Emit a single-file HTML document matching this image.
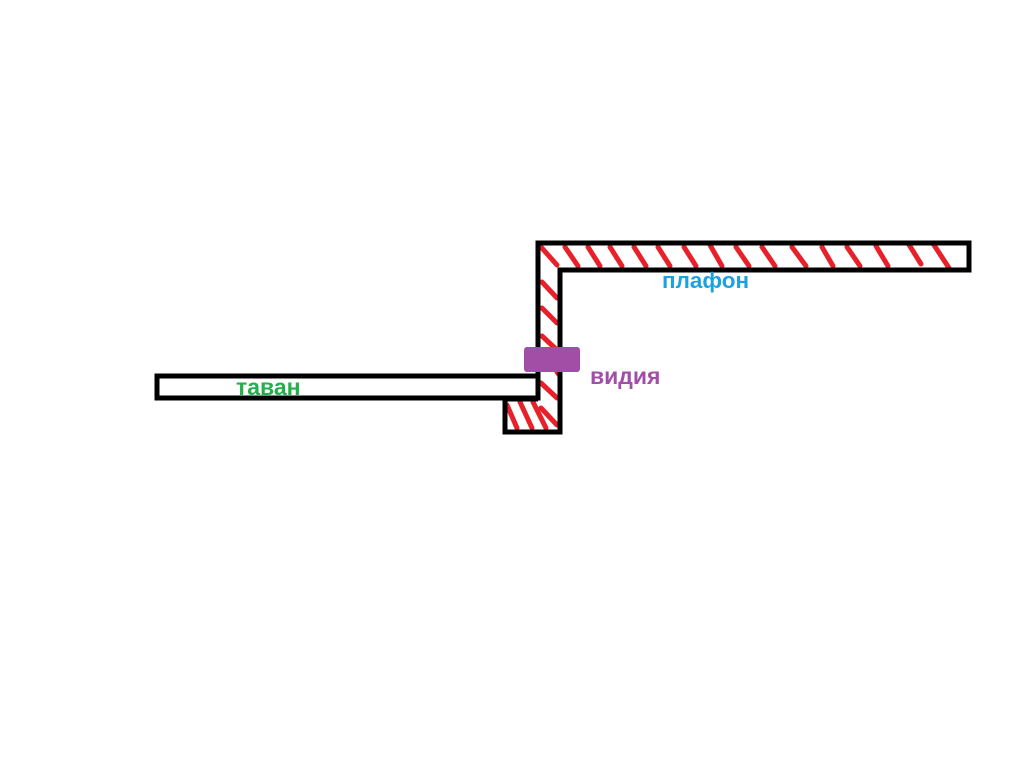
<!DOCTYPE html>
<html><head><meta charset="utf-8"><style>body{margin:0;background:#fff}svg{display:block}</style></head><body>
<svg width="1025" height="770" xmlns="http://www.w3.org/2000/svg">
<rect width="1025" height="770" fill="#fff"/>
<g stroke="#e8202a" stroke-width="5" stroke-linecap="round">
<line x1="541" y1="247" x2="557" y2="265"/>
<line x1="565" y1="247" x2="578" y2="266"/>
<line x1="588" y1="247" x2="600" y2="266"/>
<line x1="610" y1="247" x2="622" y2="266"/>
<line x1="634" y1="247" x2="646" y2="266"/>
<line x1="658" y1="247" x2="670" y2="266"/>
<line x1="684" y1="247" x2="696" y2="266"/>
<line x1="710" y1="245" x2="722" y2="266"/>
<line x1="736" y1="247" x2="749" y2="266"/>
<line x1="762" y1="247" x2="775" y2="266"/>
<line x1="792" y1="247" x2="806" y2="266"/>
<line x1="822" y1="247" x2="833" y2="266"/>
<line x1="847" y1="247" x2="860" y2="266"/>
<line x1="876" y1="246" x2="888" y2="266"/>
<line x1="908" y1="243" x2="921" y2="264"/>
<line x1="934" y1="245" x2="949" y2="268"/>
<line x1="542" y1="282" x2="557" y2="298"/>
<line x1="542" y1="308" x2="557" y2="323"/>
<line x1="542" y1="336" x2="557" y2="350"/>
<line x1="557" y1="372" x2="560" y2="376"/>
<line x1="541" y1="383" x2="557" y2="398"/>
<line x1="541" y1="408" x2="557" y2="425"/>
<line x1="507" y1="405" x2="517" y2="428"/>
<line x1="520" y1="402" x2="532" y2="428"/>
<line x1="533" y1="402" x2="546" y2="428"/>
</g>
<g fill="none" stroke="#000" stroke-width="5">
<polyline points="538,378 538,243 969,243 969,270 560,270 560,432 505,432 505,399 538,399"/>
<rect x="157" y="376" width="381" height="22"/>
</g>
<rect x="524" y="347" width="56" height="25" rx="3" fill="#a24da6"/>
<g font-family="'Liberation Sans','DejaVu Sans',sans-serif" font-weight="bold">
<text x="236" y="395" fill="#22b04c" font-size="23">таван</text>
<text x="590" y="384" fill="#a24da6" font-size="23">видия</text>
<text x="662" y="288" fill="#1ea1e0" font-size="22.5">плафон</text>
</g>
</svg>
</body></html>
